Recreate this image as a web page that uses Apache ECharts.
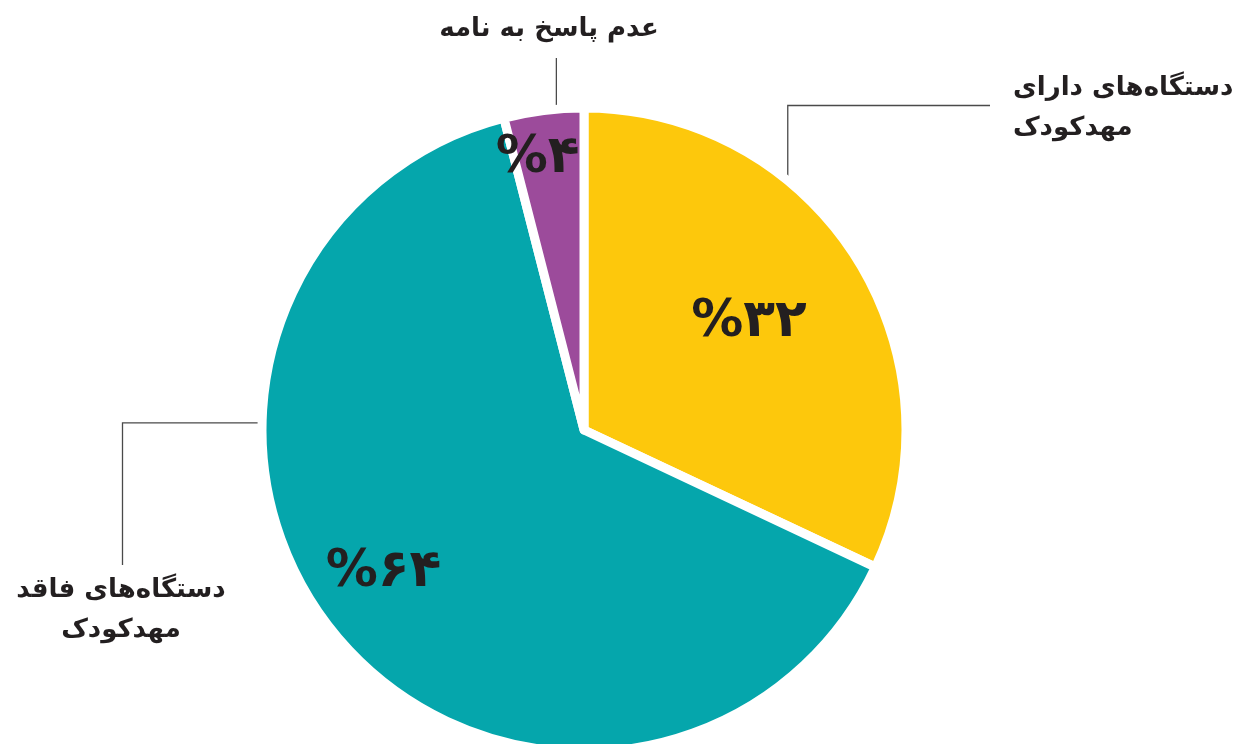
<!DOCTYPE html>
<html>
<head>
<meta charset="utf-8">
<script src="https://cdn.jsdelivr.net/npm/echarts@6/dist/echarts.min.js"></script>
<style>
  html, body { margin: 0; padding: 0; background: #fff; }
  #main { width: 1246px; height: 744px; }
</style>
</head>
<body>
<div id="main"></div>
<script>
// data
var names = ['دستگاه‌های دارای\nمهدکودک', 'دستگاه‌های فاقد\nمهدکودک', 'عدم پاسخ به نامه'];
var values = [32, 64, 4];
var colors = ['#fdc80c', '#05a6ac', '#9c4b9b'];

// layout
var CX = 584, CY = 430, R = 322;
var FONT = 'DejaVu Sans';
var TEXT = '#231f20';

// where the percent text sits (fraction of radius, small angle tweak in deg)
var pctRadius = [0.6, 0.75, 0.84];
var pctTurn = [-0.6, 4.2, -2.5];

function faDigits(n) {
  return String(n).replace(/[0-9]/g, function (d) { return '۰۱۲۳۴۵۶۷۸۹'[+d]; });
}

function onArc(deg) {
  var a = deg * Math.PI / 180;
  return [CX + (R - 5) * Math.sin(a), CY - (R - 5) * Math.cos(a)];
}

// leader lines and name positions
function nameLayout(p) {
  var i = p.dataIndex;
  if (i === 0) {
    var a = onArc(40);
    return {
      x: 1013, y: 68, align: 'left', verticalAlign: 'top',
      labelLinePoints: [a, [a[0], 105.5], [990, 105.5]]
    };
  }
  if (i === 1) {
    var b = onArc(271.3);
    return {
      x: 121, y: 570, align: 'center', verticalAlign: 'top',
      labelLinePoints: [b, [122.5, b[1]], [122.5, 565]]
    };
  }
  var c = onArc(355);
  return {
    x: 549, y: 9, align: 'center', verticalAlign: 'top',
    labelLinePoints: [c, [c[0], 58]]
  };
}

function pctLayout(p) {
  var i = p.dataIndex;
  var lx = p.labelRect.x + p.labelRect.width / 2;
  var ly = p.labelRect.y + p.labelRect.height / 2;
  var k = pctRadius[i] / 0.5;
  var vx = (lx - CX) * k, vy = (ly - CY) * k;
  var t = pctTurn[i] * Math.PI / 180;
  var rx = vx * Math.cos(t) - vy * Math.sin(t);
  var ry = vx * Math.sin(t) + vy * Math.cos(t);
  return { x: CX + rx, y: CY + ry, align: 'center', verticalAlign: 'middle' };
}

var pieData = names.map(function (n, i) {
  return { name: n, value: values[i], itemStyle: { color: colors[i] } };
});

var myChart = echarts.init(document.getElementById('main'));
myChart.setOption({
  animation: false,
  backgroundColor: '#ffffff',
  series: [
    {
      type: 'pie',
      center: [CX, CY],
      radius: [0, R],
      startAngle: 90,
      clockwise: true,
      avoidLabelOverlap: false,
      silent: true,
      itemStyle: { borderColor: '#ffffff', borderWidth: 9 },
      label: {
        show: true,
        position: 'outside',
        formatter: '{b}',
        fontFamily: FONT,
        fontWeight: 'bold',
        fontSize: 26,
        lineHeight: 40,
        color: TEXT
      },
      labelLine: {
        show: true,
        length: 20,
        length2: 20,
        lineStyle: { color: '#4a4a4a', width: 1.3 }
      },
      labelLayout: nameLayout,
      data: pieData
    },
    {
      type: 'pie',
      center: [CX, CY],
      radius: [0, R],
      startAngle: 90,
      clockwise: true,
      silent: true,
      itemStyle: { color: 'rgba(0,0,0,0)', borderWidth: 0 },
      label: {
        show: true,
        position: 'inside',
        formatter: function (p) { return '%' + faDigits(p.value); },
        fontFamily: FONT,
        fontWeight: 'bold',
        fontSize: 52,
        color: TEXT
      },
      labelLine: { show: false },
      labelLayout: pctLayout,
      data: values.map(function (v, i) { return { name: names[i], value: v }; })
    }
  ]
});
</script>
</body>
</html>
